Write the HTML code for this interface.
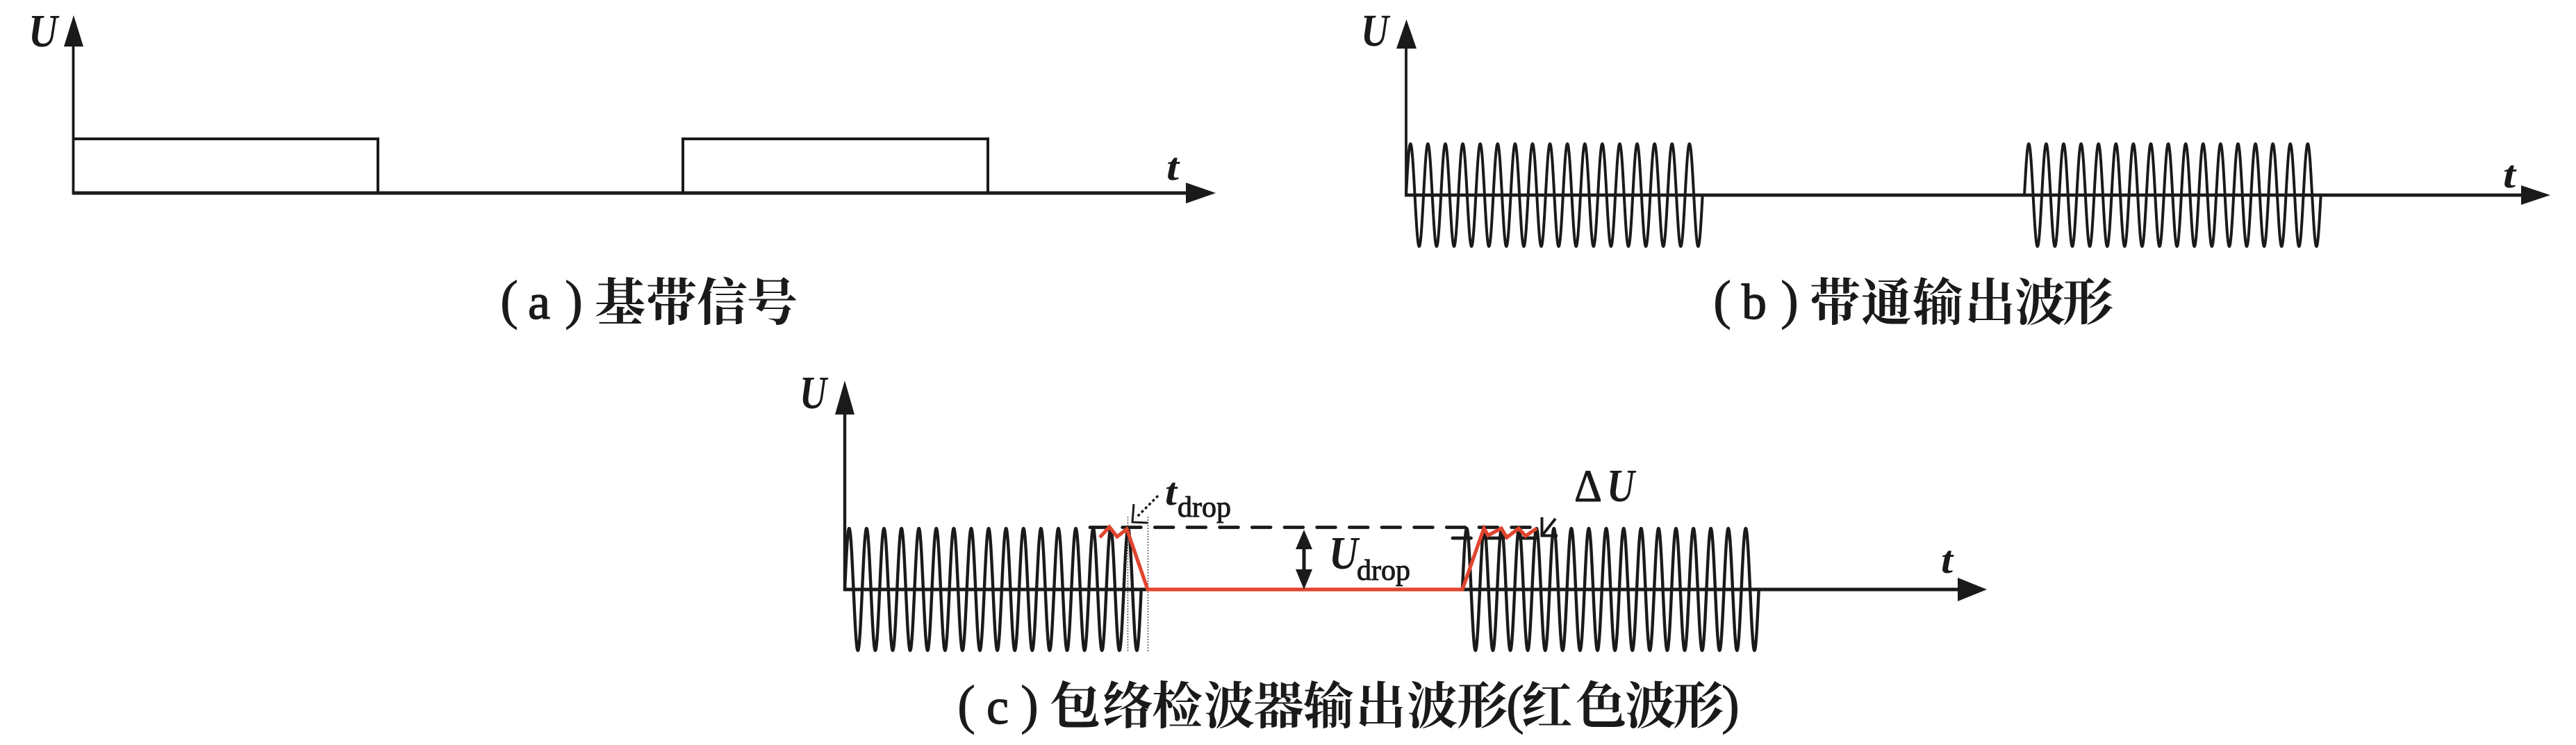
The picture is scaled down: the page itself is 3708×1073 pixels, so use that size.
<!DOCTYPE html>
<html>
<head>
<meta charset="utf-8">
<style>
html,body{margin:0;padding:0;background:#fff;width:3708px;height:1073px;overflow:hidden}
svg{display:block}
.ser{font-family:"Liberation Serif",serif;fill:#1a1a1a}
.var{font-family:"Liberation Serif",serif;font-style:italic;font-weight:bold;fill:#1a1a1a}
.cjk{font-family:"Liberation Serif","Noto Serif CJK SC",serif;font-size:73px;font-weight:700;fill:#1a1a1a}
.par{font-size:78px;stroke:#1a1a1a;stroke-width:.8}
.let{font-size:72px;stroke:#1a1a1a;stroke-width:1.4}
.sub{font-size:42px;stroke:#1a1a1a;stroke-width:1}
</style>
</head>
<body>
<svg width="3708" height="1073" viewBox="0 0 3708 1073" xmlns="http://www.w3.org/2000/svg">
<defs>
<path id="pb" d="M0 0c2.04,-37.9 4,-74 6.275,-74c2.275,0 4.235,36.1 6.275,74c2.04,37.9 4,74 6.275,74c2.275,0 4.235,-36.1 6.275,-74" fill="none" stroke="#1a1a1a" stroke-width="4"/>
<path id="pc" d="M0 0c2.04,-45.1 4,-88 6.275,-88c2.275,0 4.235,42.9 6.275,88c2.04,45.1 4,88 6.275,88c2.275,0 4.235,-42.9 6.275,-88" fill="none" stroke="#1a1a1a" stroke-width="4.4"/>
<g id="b17">
<use href="#pb" x="0"/><use href="#pb" x="25.1"/><use href="#pb" x="50.2"/><use href="#pb" x="75.3"/><use href="#pb" x="100.4"/><use href="#pb" x="125.5"/><use href="#pb" x="150.6"/><use href="#pb" x="175.7"/><use href="#pb" x="200.8"/><use href="#pb" x="225.9"/><use href="#pb" x="251"/><use href="#pb" x="276.1"/><use href="#pb" x="301.2"/><use href="#pb" x="326.3"/><use href="#pb" x="351.4"/><use href="#pb" x="376.5"/><use href="#pb" x="401.6"/>
</g>
<g id="c17">
<use href="#pc" x="0"/><use href="#pc" x="25.1"/><use href="#pc" x="50.2"/><use href="#pc" x="75.3"/><use href="#pc" x="100.4"/><use href="#pc" x="125.5"/><use href="#pc" x="150.6"/><use href="#pc" x="175.7"/><use href="#pc" x="200.8"/><use href="#pc" x="225.9"/><use href="#pc" x="251"/><use href="#pc" x="276.1"/><use href="#pc" x="301.2"/><use href="#pc" x="326.3"/><use href="#pc" x="351.4"/><use href="#pc" x="376.5"/><use href="#pc" x="401.6"/>
</g>
</defs>
<rect width="3708" height="1073" fill="#fff"/>

<!-- panel a -->
<g stroke="#1a1a1a" fill="none">
<line x1="105.5" y1="60" x2="105.5" y2="280" stroke-width="3.8"/>
<line x1="104" y1="278" x2="1710" y2="278" stroke-width="5"/>
<path d="M105 200H544V278" stroke-width="4"/>
<path d="M983 278V200H1422V278" stroke-width="4"/>
</g>
<polygon points="106,22 92,67 120,67" fill="#1a1a1a"/>
<polygon points="1707,263 1750,278 1707,293" fill="#1a1a1a"/>
<text class="var" x="41" y="67" font-size="67" textLength="42" lengthAdjust="spacingAndGlyphs">U</text>
<text class="var" x="1679" y="259" font-size="56" textLength="18" lengthAdjust="spacingAndGlyphs">t</text>
<text class="ser par" x="720" y="458">(</text>
<text class="ser let" x="760" y="459">a</text>
<text class="ser par" x="813" y="458">)</text>
<text class="cjk" y="461" x="856 930 1003 1075">基带信号</text>

<!-- panel b -->
<g stroke="#1a1a1a" fill="none">
<line x1="2024" y1="60" x2="2024" y2="283" stroke-width="3.8"/>
<line x1="2022" y1="281" x2="3635" y2="281" stroke-width="4.8"/>
</g>
<use href="#b17" x="2024" y="281"/>
<use href="#b17" x="2914" y="281"/>
<polygon points="2024.5,28 2010,70 2039,70" fill="#1a1a1a"/>
<polygon points="3629,267 3671,281 3629,295" fill="#1a1a1a"/>
<text class="var" x="1959" y="66" font-size="66" textLength="40" lengthAdjust="spacingAndGlyphs">U</text>
<text class="var" x="3603" y="270" font-size="56" textLength="18" lengthAdjust="spacingAndGlyphs">t</text>
<text class="ser par" x="2466" y="458">(</text>
<text class="ser let" x="2507" y="459">b</text>
<text class="ser par" x="2563" y="458">)</text>
<text class="cjk" y="461" x="2605 2679 2753 2828 2900 2969">带通输出波形</text>

<!-- panel c -->
<g stroke="#1a1a1a" fill="none">
<line x1="1216" y1="590" x2="1216" y2="851" stroke-width="4.4"/>
<line x1="1214" y1="849" x2="1654" y2="849" stroke-width="5"/>
<line x1="2105" y1="849" x2="2825" y2="849" stroke-width="5"/>
</g>
<use href="#c17" x="1216" y="849"/>
<use href="#c17" x="2105" y="849"/>
<polygon points="1216,548 1202,597 1230,597" fill="#1a1a1a"/>
<polygon points="2818,832 2860,849 2818,866" fill="#1a1a1a"/>

<!-- dotted guides -->
<g stroke="#333" stroke-width="1.2" stroke-dasharray="2 2" fill="none">
<line x1="1623.5" y1="744" x2="1623.5" y2="938"/>
<line x1="1652.5" y1="744" x2="1652.5" y2="938"/>
</g>
<!-- dashed levels -->
<g stroke="#1a1a1a" stroke-width="4.8" fill="none" stroke-linecap="round">
<line x1="1569" y1="759.5" x2="2203" y2="759.5" stroke-dasharray="26.67 20"/>
<line x1="2091" y1="775" x2="2213" y2="775" stroke-dasharray="26.5 20.5"/>
</g>

<!-- red envelope -->
<path d="M1583 774L1597 759L1608 773L1622 762L1652 849H2105L2136 761L2142 771L2161 761L2169 774L2186 761L2196 772L2212 761" fill="none" stroke="#e0452f" stroke-width="5.2" stroke-linejoin="miter"/>

<!-- t_drop arrow -->
<line x1="1667" y1="714" x2="1635" y2="746" stroke="#1a1a1a" stroke-width="3.4" stroke-dasharray="4 3.5"/>
<path d="M1632 726L1630 752L1652 753" fill="none" stroke="#1a1a1a" stroke-width="3"/>
<text class="var" x="1677" y="727" font-size="56" textLength="17" lengthAdjust="spacingAndGlyphs">t</text>
<text class="ser sub" x="1695" y="744" textLength="77" lengthAdjust="spacingAndGlyphs">drop</text>

<!-- U_drop arrow -->
<line x1="1877" y1="785" x2="1877" y2="826" stroke="#1a1a1a" stroke-width="5"/>
<polygon points="1877,763 1865,791 1889,791" fill="#1a1a1a"/>
<polygon points="1877,849 1865,820 1889,820" fill="#1a1a1a"/>
<text class="var" x="1913" y="819" font-size="67" textLength="42" lengthAdjust="spacingAndGlyphs">U</text>
<text class="ser sub" x="1953" y="835" textLength="77" lengthAdjust="spacingAndGlyphs">drop</text>

<!-- delta U -->
<path d="M2239 747L2220 771M2219.5 745V771.5H2242" fill="none" stroke="#1a1a1a" stroke-width="4"/>
<text class="ser" x="2266" y="722" font-size="66" textLength="40" lengthAdjust="spacingAndGlyphs" stroke="#1a1a1a" stroke-width="1">Δ</text>
<text class="var" x="2313" y="722" font-size="67" textLength="40" lengthAdjust="spacingAndGlyphs">U</text>

<text class="var" x="1151" y="588" font-size="67" textLength="39" lengthAdjust="spacingAndGlyphs">U</text>
<text class="var" x="2794" y="825" font-size="56" textLength="17" lengthAdjust="spacingAndGlyphs">t</text>

<text class="ser par" x="1378" y="1041">(</text>
<text class="ser let" x="1420" y="1042">c</text>
<text class="ser par" x="1469" y="1041">)</text>
<text class="cjk" y="1042" x="1511 1587 1658 1733 1804 1876 1951 2025 2097">包络检波器输出波形</text>
<text class="ser par" x="2168" y="1041">(</text>
<text class="cjk" y="1042" x="2190 2268 2339 2408">红色波形</text>
<text class="ser par" x="2478" y="1041">)</text>
</svg>
</body>
</html>
